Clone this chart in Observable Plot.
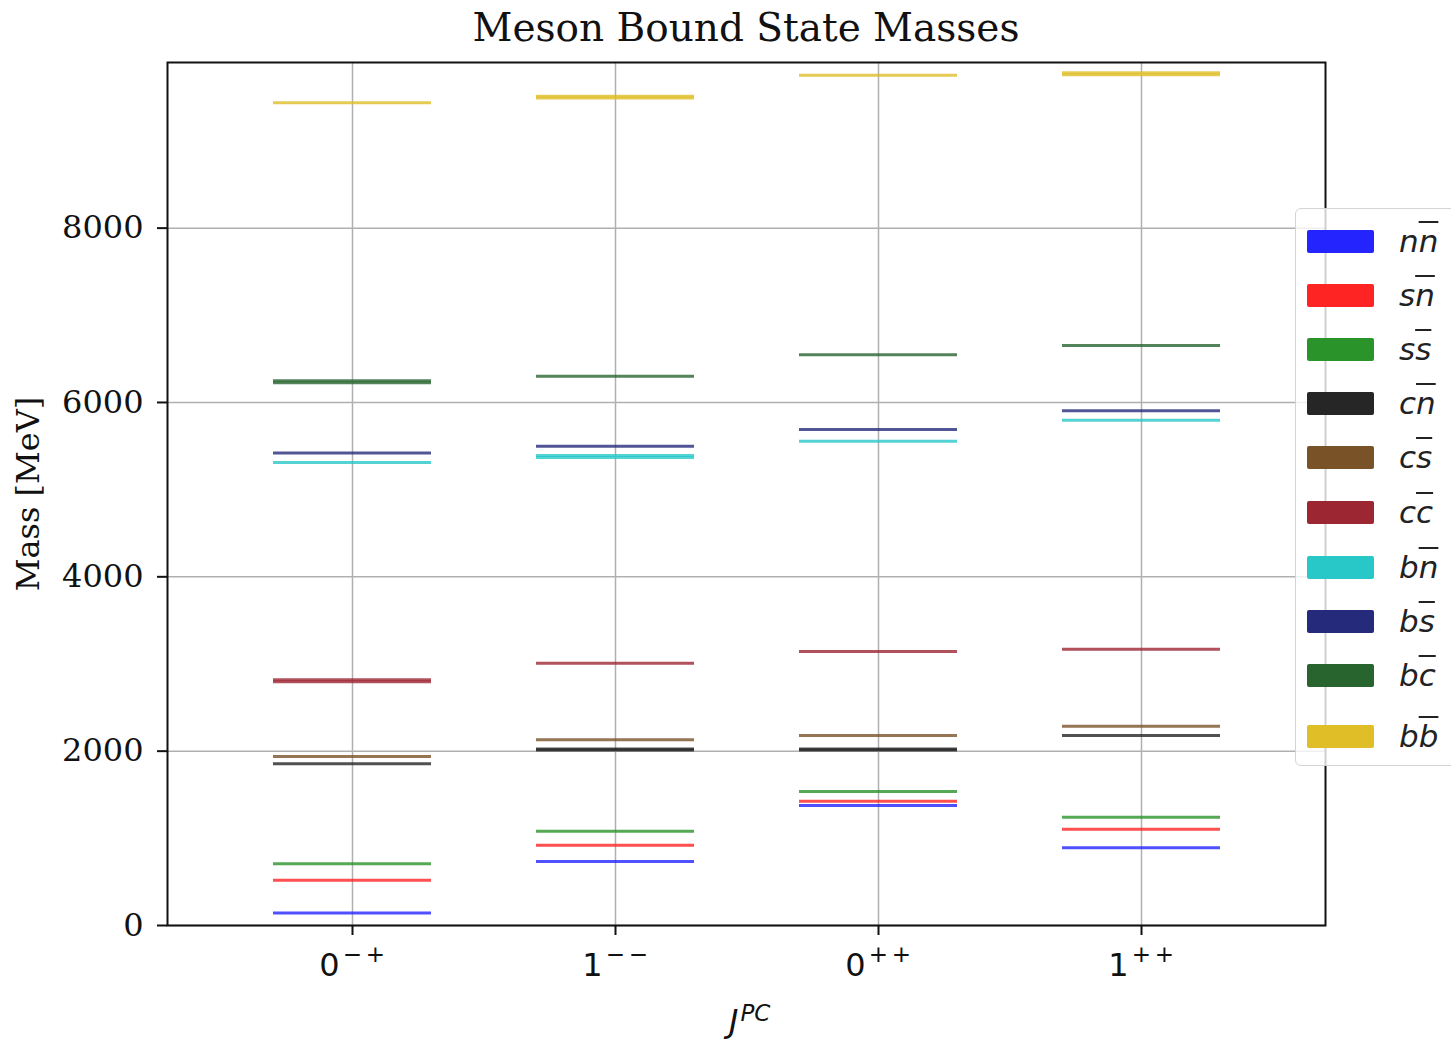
<!DOCTYPE html>
<html>
<head>
<meta charset="utf-8">
<script src="https://cdn.jsdelivr.net/npm/d3@7"></script>
<script src="https://cdn.jsdelivr.net/npm/@observablehq/plot@0.6"></script>
<style>
  html, body { margin: 0; padding: 0; background: #fff; }
  body { width: 1451px; height: 1040px; overflow: hidden; position: relative; }
  #title { position: absolute; top: 5px; left: 746px; transform: translateX(-50%); white-space: nowrap;
           font-family: "DejaVu Serif", serif; font-size: 39px; color: #111; }
  #chart { position: absolute; top: 55px; left: 0; }
  #legend { position: absolute; left: 1295px; top: 208px; width: 190px; height: 558px;
            border: 1.5px solid #d4d4d4; border-radius: 6px; background: rgba(255,255,255,0.8); box-sizing: border-box; }
  .row { position: absolute; left: 0; height: 40px; display: flex; align-items: center; }
  .sw { width: 67px; height: 23px; margin-left: 11px; border-radius: 2px; }
  .lab { margin-left: 25px; font-family: "DejaVu Sans", sans-serif; font-style: italic; font-size: 31px; color: #222; }
  .ov { text-decoration: overline; text-decoration-thickness: 2px; }
</style>
</head>
<body>
<div id="title">Meson Bound State Masses</div>
<div id="chart"></div>
<div id="legend"></div>
<script>
// Categories (J^PC) and their tick label parts: J, P, C
const categories = ["0-+", "1--", "0++", "1++"];
const tickJ = ["0", "1", "0", "1"];
const tickP = ["\u2212", "\u2212", "+", "+"];
const tickC = ["+", "\u2212", "+", "+"];

// Flavour content of each meson family
const flavors = ["nn", "sn", "ss", "cn", "cs", "cc", "bn", "bs", "bc", "bb"];
const flavorFirst = ["n", "s", "s", "c", "c", "c", "b", "b", "b", "b"];
const flavorBar   = ["n", "n", "s", "n", "s", "c", "n", "s", "c", "b"];
const colors = ["#2424ff", "#ff2424", "#2a942a", "#262626", "#7a5228", "#9c2632", "#28c8c8", "#262a7a", "#28642e", "#e0be28"];

// Masses [MeV] per family, one entry per J^PC (a pair = two nearly coincident states)
const massNN = [142, 734, 1376, 891];
const massSN = [520, 921, 1426, 1105];
const massSS = [708, 1082, 1537, 1243];
const massCN = [1855, [2014, 2024], [2014, 2024], 2179];
const massCS = [1938, 2130, 2179, 2287];
const massCC = [[2797, 2819], 3009, 3143, 3170];
const massBN = [5311, [5369, 5391], 5556, 5797];
const massBS = [5419, 5499, 5691, 5904];
const massBC = [[6226, 6248], 6302, 6547, 6654];
const massBB = [9438, [9492, 9514], 9755, [9760, 9782]];

const yTicks = [0, 2000, 4000, 6000, 8000];

const massTable = [massNN, massSN, massSS, massCN, massCS, massCC, massBN, massBS, massBC, massBB];
const data = [];
massTable.forEach((arr, i) => arr.forEach((v, j) => [].concat(v).forEach(m =>
  data.push({flavor: flavors[i], jpc: categories[j], mass: m}))));

const ix = d => categories.indexOf(d);
const sans = "DejaVu Sans";

const chart = Plot.plot({
  width: 1451,
  height: 985,
  marginLeft: 167,
  marginRight: 126,
  marginTop: 7,
  marginBottom: 115,
  style: {fontFamily: "DejaVu Serif", fontSize: "32px", color: "#111", background: "transparent"},
  x: {type: "band", domain: categories, paddingInner: 0.4, paddingOuter: 0.4, label: null},
  y: {domain: [0, 9900], label: null},
  color: {domain: flavors, range: colors},
  marks: [
    Plot.gridX({stroke: "#b0b0b0", strokeOpacity: 1, strokeWidth: 1.5}),
    Plot.gridY(yTicks, {stroke: "#b0b0b0", strokeOpacity: 1, strokeWidth: 1.5}),
    Plot.tickY(data, {x: "jpc", y: "mass", stroke: "flavor", strokeWidth: 3, strokeOpacity: 0.8}),
    Plot.frame({stroke: "#111", strokeWidth: 2}),
    Plot.axisY(yTicks, {tickSize: 10, tickPadding: 14, strokeWidth: 2, tickFormat: d => String(d), label: null}),
    Plot.axisX({tickSize: 10, strokeWidth: 2, tickFormat: () => "", label: null}),
    // x tick labels J^{PC}
    Plot.text(categories, {x: d => d, frameAnchor: "bottom", dx: -23, dy: 50, lineAnchor: "bottom",
                           text: d => tickJ[ix(d)], fontFamily: sans, fontSize: 32}),
    Plot.text(categories, {x: d => d, frameAnchor: "bottom", dx: 0, dy: 36, lineAnchor: "bottom",
                           text: d => tickP[ix(d)], fontFamily: sans, fontSize: 23}),
    Plot.text(categories, {x: d => d, frameAnchor: "bottom", dx: 23, dy: 36, lineAnchor: "bottom",
                           text: d => tickC[ix(d)], fontFamily: sans, fontSize: 23}),
    // axis titles
    Plot.text(["Mass [MeV]"], {frameAnchor: "left", dx: -139, rotate: -90, textAnchor: "middle", fontSize: 32}),
    Plot.text(["J"], {frameAnchor: "bottom", dx: -8, dy: 106, lineAnchor: "bottom", textAnchor: "end",
                      fontFamily: sans, fontStyle: "italic", fontSize: 32}),
    Plot.text(["PC"], {frameAnchor: "bottom", dx: -6, dy: 95, lineAnchor: "bottom", textAnchor: "start",
                      fontFamily: sans, fontStyle: "italic", fontSize: 23})
  ]
});
document.getElementById("chart").appendChild(chart);

// Legend
const legend = document.getElementById("legend");
const rowCenters = [32, 86, 140, 194, 248, 303, 358, 412, 466, 527];
flavors.forEach((f, i) => {
  const row = document.createElement("div");
  row.className = "row";
  row.style.top = (rowCenters[i] - 20) + "px";
  const sw = document.createElement("div");
  sw.className = "sw";
  sw.style.background = colors[i];
  const lab = document.createElement("div");
  lab.className = "lab";
  lab.innerHTML = flavorFirst[i] + '<span class="ov">' + flavorBar[i] + '</span>';
  row.appendChild(sw);
  row.appendChild(lab);
  legend.appendChild(row);
});
</script>
</body>
</html>
